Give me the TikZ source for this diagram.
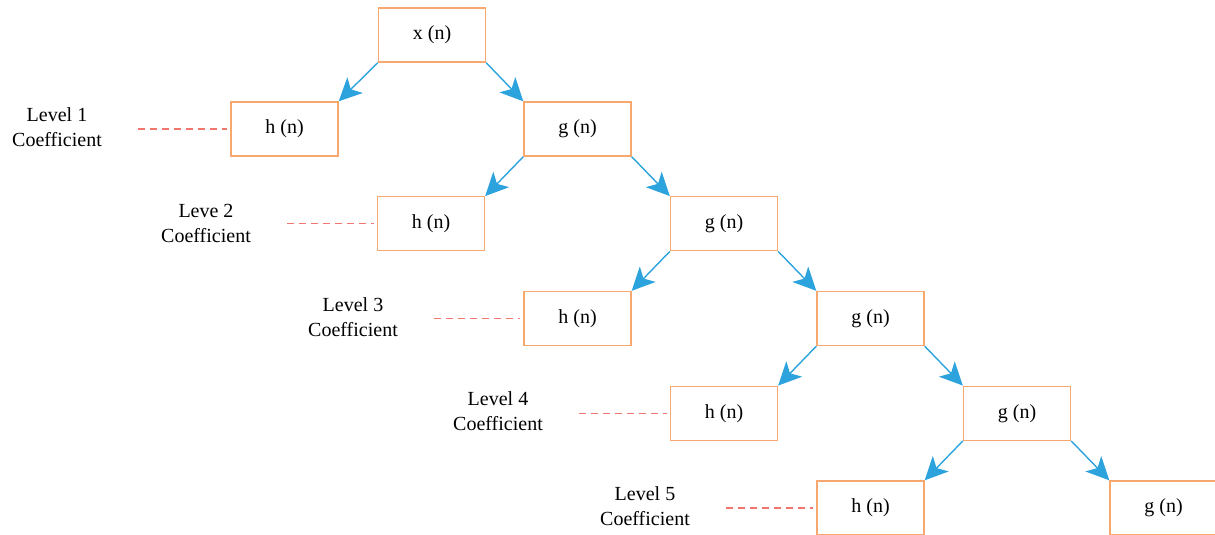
\documentclass[tikz,border=0pt]{standalone}
\usepackage{fontspec}
\setmainfont{Liberation Serif}
\usetikzlibrary{arrows.meta}

\definecolor{filtorange}{RGB}{247,168,110}
\definecolor{arrowblue}{RGB}{45,163,222}
\definecolor{dashred}{RGB}{242,118,112}

\tikzset{
  filt/.style={draw=filtorange,line width=1.4pt,minimum width=107pt,minimum height=54pt,inner sep=0pt,font=\fontsize{20}{23}\selectfont},
  branch/.style={draw=arrowblue,line width=1.4pt,-{Stealth[length=23pt,width=22pt,inset=6pt]}},
  coef/.style={align=center,font=\fontsize{20}{25}\selectfont},
  guide/.style={draw=dashred,line width=1.2pt,dash pattern=on 7pt off 5pt}
}

\begin{document}
\begin{tikzpicture}[x=1pt,y=-1pt]
  \useasboundingbox (0,0) rectangle (1215,535);

  % input signal
  \node[filt] (x) at (432,35) {x (n)};

  % low-pass / high-pass filters, one pair per level
  \foreach \i in {1,...,5} {
    \node[filt] (h\i) at ({284.5+146.5*(\i-1)},{129+94.75*(\i-1)}) {h (n)};
    \node[filt] (g\i) at ({577.5+146.5*(\i-1)},{129+94.75*(\i-1)}) {g (n)};
  }

  % level labels
  \node[coef] (l1) at (57,127.5) {Level 1\\Coefficient};
  \node[coef] (l2) at (206,223) {Leve 2\\Coefficient};
  \node[coef] (l3) at (353,317) {Level 3\\Coefficient};
  \node[coef] (l4) at (498,411) {Level 4\\Coefficient};
  \node[coef] (l5) at (645,506) {Level 5\\Coefficient};

  \foreach \i in {1,...,5} {
    \coordinate (d\i) at ([xshift=81pt]l\i.center |- h\i.center);
    \draw[guide] (d\i) -- ([xshift=-3pt]h\i.west);
  }

  % decomposition tree
  \draw[branch] (x.south west) -- (h1.north east);
  \draw[branch] (x.south east) -- (g1.north west);
  \foreach \i [evaluate=\i as \j using int(\i+1)] in {1,...,4} {
    \draw[branch] (g\i.south west) -- (h\j.north east);
    \draw[branch] (g\i.south east) -- (g\j.north west);
  }
\end{tikzpicture}
\end{document}
